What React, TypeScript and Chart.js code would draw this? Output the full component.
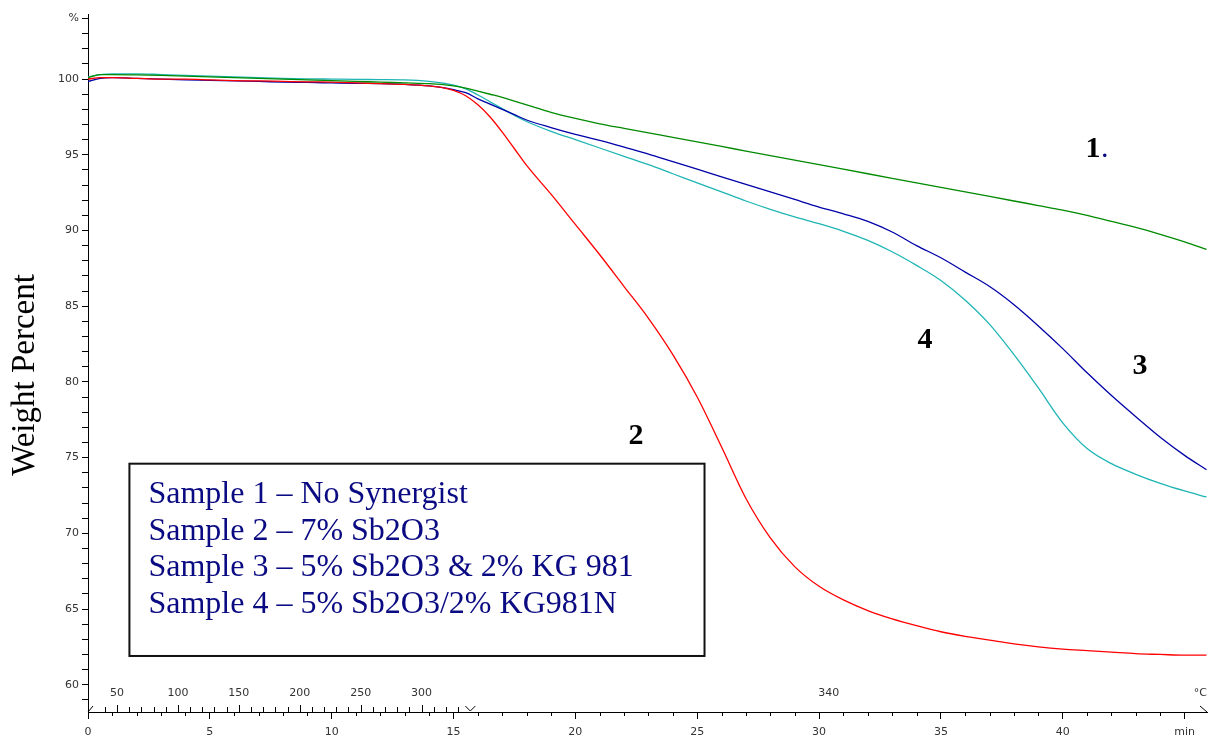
import React, { useEffect, useRef } from 'react';
import Chart from 'chart.js/auto';

// ---- data (time in minutes, weight in %) ----
const timeMin = [0, 0.5, 1, 2, 3, 4, 5, 6, 7, 8, 9, 10, 11, 12, 13, 14, 14.5, 15, 15.5, 16, 16.5, 17, 17.5, 18, 19, 20, 21, 22, 23, 24, 25, 26, 27, 28, 29, 30, 31, 32, 33, 34, 35, 36, 37, 38, 39, 40, 41, 42, 43, 44, 45, 45.9];

const sample1 = [100.1, 100.3, 100.3, 100.28, 100.25, 100.2, 100.15, 100.1, 100.05, 100.0, 99.95, 99.9, 99.85, 99.8, 99.75, 99.7, 99.65, 99.55, 99.4, 99.2, 99.0, 98.8, 98.55, 98.3, 97.8, 97.4, 97.05, 96.75, 96.45, 96.15, 95.85, 95.55, 95.25, 94.95, 94.65, 94.35, 94.05, 93.75, 93.45, 93.15, 92.85, 92.55, 92.25, 91.95, 91.65, 91.35, 91.0, 90.6, 90.2, 89.75, 89.25, 88.75];

const sample2 = [100.0, 100.1, 100.1, 100.05, 100.0, 100.0, 99.95, 99.9, 99.88, 99.85, 99.82, 99.8, 99.75, 99.7, 99.65, 99.55, 99.45, 99.25, 98.9, 98.3, 97.5, 96.5, 95.4, 94.3, 92.4, 90.4, 88.4, 86.3, 84.2, 81.8, 79.0, 75.7, 72.3, 69.7, 67.8, 66.5, 65.6, 64.9, 64.35, 63.9, 63.5, 63.2, 62.95, 62.7, 62.5, 62.35, 62.25, 62.15, 62.05, 62.0, 61.95, 61.95];

const sample3 = [99.85, 100.05, 100.1, 100.05, 100.0, 99.95, 99.92, 99.88, 99.85, 99.8, 99.78, 99.75, 99.72, 99.7, 99.65, 99.55, 99.45, 99.3, 99.1, 98.7, 98.35, 98.0, 97.65, 97.3, 96.8, 96.35, 95.95, 95.5, 95.05, 94.55, 94.05, 93.55, 93.05, 92.55, 92.05, 91.55, 91.1, 90.6, 89.9, 89.0, 88.2, 87.25, 86.3, 85.1, 83.7, 82.2, 80.6, 79.1, 77.7, 76.35, 75.15, 74.2];

const sample4 = [100.15, 100.3, 100.35, 100.35, 100.3, 100.25, 100.2, 100.15, 100.1, 100.05, 100.02, 100.0, 99.98, 99.97, 99.95, 99.85, 99.75, 99.6, 99.35, 98.95, 98.5, 98.05, 97.6, 97.2, 96.55, 96.0, 95.45, 94.9, 94.35, 93.75, 93.15, 92.55, 91.95, 91.4, 90.9, 90.45, 89.95, 89.35, 88.6, 87.7, 86.7, 85.4, 83.8, 81.8, 79.6, 77.3, 75.6, 74.6, 73.9, 73.3, 72.8, 72.4];

const seriesColors = ['#008a00', '#ff0000', '#0000a8', '#1fb5b5'];

const yTickValues = [59, 60, 61, 62, 63, 64, 65, 66, 67, 68, 69, 70, 71, 72, 73, 74, 75, 76, 77, 78, 79, 80, 81, 82, 83, 84, 85, 86, 87, 88, 89, 90, 91, 92, 93, 94, 95, 96, 97, 98, 99, 100, 101, 102, 103, 104];
const yLabelStep = 5;
const yUnitTick = 104;

const xTickValues = [0, 1, 2, 3, 4, 5, 6, 7, 8, 9, 10, 11, 12, 13, 14, 15, 16, 17, 18, 19, 20, 21, 22, 23, 24, 25, 26, 27, 28, 29, 30, 31, 32, 33, 34, 35, 36, 37, 38, 39, 40, 41, 42, 43, 44, 45];
const xLabelStep = 5;
const xUnitTick = 45;

// temperature programme (secondary scale)
const tempStart = 26.2; // °C at t = 0
const heatRate = 20; // °C / min
const isoTemp = 340;
const tempTickValues = [40, 50, 60, 70, 80, 90, 100, 110, 120, 130, 140, 150, 160, 170, 180, 190, 200, 210, 220, 230, 240, 250, 260, 270, 280, 290, 300, 310, 320, 330];
const tempLabelValues = [50, 100, 150, 200, 250, 300];
const isoLabelTime = 30.4;

const legendLines = [
  'Sample 1 – No Synergist',
  'Sample 2 – 7% Sb2O3',
  'Sample 3 – 5% Sb2O3 & 2% KG 981',
  'Sample 4 – 5% Sb2O3/2% KG981N',
];
// legend box corners in data units (min, %)
const legendBox = { t0: 1.7, t1: 25.3, w0: 74.6, w1: 61.9 };

const curveLabels = [
  { text: '1', t: 41.24, w: 95.4, dot: true },
  { text: '2', t: 22.49, w: 76.4, dot: false },
  { text: '3', t: 43.17, w: 81.05, dot: false },
  { text: '4', t: 34.35, w: 82.75, dot: false },
];

const overlay = {
  id: 'overlay',
  afterDraw(chart: any) {
    const { ctx, chartArea: ca } = chart;
    const x = chart.scales.x;
    const y = chart.scales.y;
    const axisY = ca.bottom;
    ctx.save();
    ctx.strokeStyle = '#000';
    ctx.lineWidth = 1;
    const line = (x1: number, y1: number, x2: number, y2: number) => {
      ctx.beginPath();
      ctx.moveTo(x1, y1);
      ctx.lineTo(x2, y2);
      ctx.stroke();
    };
    // minor minute ticks (below axis)
    for (const m of xTickValues) {
      if (m % xLabelStep === 0) continue;
      const px = Math.round(x.getPixelForValue(m)) + 0.5;
      line(px, axisY, px, axisY + 4);
    }
    // temperature ticks (above axis)
    ctx.fillStyle = '#333';
    ctx.font = '11px "DejaVu Sans"';
    ctx.textAlign = 'center';
    ctx.textBaseline = 'middle';
    for (const T of tempTickValues) {
      const t = (T - tempStart) / heatRate;
      const px = Math.round(x.getPixelForValue(t)) + 0.5;
      const len = tempLabelValues.includes(T) ? 7 : 5;
      line(px, axisY, px, axisY - len);
    }
    for (const T of tempLabelValues) {
      const t = (T - tempStart) / heatRate;
      ctx.fillText(String(T), x.getPixelForValue(t), axisY - 19);
    }
    ctx.fillText(String(isoTemp), x.getPixelForValue(isoLabelTime), axisY - 19);
    ctx.textAlign = 'right';
    ctx.fillText('°C', ca.right, axisY - 19);
    // segment markers
    const isoT = (isoTemp - tempStart) / heatRate;
    const vx = x.getPixelForValue(isoT);
    ctx.beginPath();
    ctx.moveTo(vx - 5, axisY - 6);
    ctx.lineTo(vx, axisY - 1);
    ctx.lineTo(vx + 5, axisY - 6);
    ctx.stroke();
    line(ca.left, axisY, ca.left + 5, axisY - 6);
    line(ca.right - 7, axisY - 6, ca.right, axisY);

    // y axis title
    ctx.save();
    ctx.translate(25, (ca.top + ca.bottom) / 2 + 12);
    ctx.rotate(-Math.PI / 2);
    ctx.fillStyle = '#000';
    ctx.font = '33px "Liberation Serif"';
    ctx.textAlign = 'center';
    ctx.textBaseline = 'middle';
    ctx.fillText('Weight Percent', 0, 0);
    ctx.restore();

    // legend box
    const bx0 = x.getPixelForValue(legendBox.t0);
    const bx1 = x.getPixelForValue(legendBox.t1);
    const by0 = y.getPixelForValue(legendBox.w0);
    const by1 = y.getPixelForValue(legendBox.w1);
    ctx.fillStyle = '#fff';
    ctx.fillRect(bx0, by0, bx1 - bx0, by1 - by0);
    ctx.lineWidth = 2;
    ctx.strokeStyle = '#111';
    ctx.strokeRect(bx0, by0, bx1 - bx0, by1 - by0);
    ctx.fillStyle = '#0a0a82';
    ctx.font = '32px "Liberation Serif"';
    ctx.textAlign = 'left';
    ctx.textBaseline = 'middle';
    legendLines.forEach((s, i) => {
      ctx.fillText(s, bx0 + 19, by0 + 31 + i * 36.7);
    });

    // curve labels
    ctx.font = 'bold 30px "Liberation Serif"';
    ctx.textAlign = 'center';
    ctx.textBaseline = 'middle';
    for (const c of curveLabels) {
      const px = x.getPixelForValue(c.t);
      const py = y.getPixelForValue(c.w);
      ctx.fillStyle = '#000';
      ctx.fillText(c.text, px, py);
      if (c.dot) {
        ctx.fillStyle = '#0a0a82';
        ctx.textAlign = 'left';
        ctx.font = '30px "Liberation Serif"';
        ctx.fillText('.', px + 8, py);
        ctx.font = 'bold 30px "Liberation Serif"';
        ctx.textAlign = 'center';
      }
    }
    ctx.restore();
  },
};

export default function App() {
  const ref = useRef<HTMLCanvasElement>(null);
  useEffect(() => {
    const series = [sample1, sample2, sample3, sample4];
    const chart = new Chart(ref.current as HTMLCanvasElement, {
      type: 'line',
      data: {
        datasets: series.map((s, i) => ({
          label: 'Sample ' + (i + 1),
          data: timeMin.map((t, j) => ({ x: t, y: s[j] })),
          borderColor: seriesColors[i],
          backgroundColor: seriesColors[i],
          borderWidth: 1.3,
          pointRadius: 0,
          fill: false,
          cubicInterpolationMode: 'monotone' as const,
        })),
      },
      options: {
        responsive: false,
        animation: false,
        layout: { padding: { top: 14, right: 2, left: 0, bottom: 0 } },
        plugins: { legend: { display: false }, tooltip: { enabled: false } },
        scales: {
          x: {
            type: 'linear',
            min: 0,
            max: 45.92,
            border: { display: true, color: '#000', width: 1 },
            grid: {
              drawOnChartArea: false,
              drawTicks: true,
              tickLength: 7,
              tickColor: (c: any) => (c.tick && c.tick.value % xLabelStep === 0 ? '#000' : 'rgba(0,0,0,0)'),
            },
            afterBuildTicks: (scale: any) => {
              scale.ticks = xTickValues.map((v) => ({ value: v }));
            },
            afterFit: (scale: any) => {
              scale.height = 26;
            },
            ticks: {
              autoSkip: false,
              maxRotation: 0,
              padding: 7,
              color: '#333',
              font: { family: 'DejaVu Sans', size: 11 },
              callback: (v: any) => (v % xLabelStep === 0 ? (v === xUnitTick ? 'min' : String(v)) : ''),
            },
          },
          y: {
            type: 'linear',
            min: 58.2,
            max: 104.3,
            border: { display: true, color: '#000', width: 1 },
            grid: { drawOnChartArea: false, drawTicks: true, tickLength: 6, tickColor: '#000' },
            afterBuildTicks: (scale: any) => {
              scale.ticks = yTickValues.map((v) => ({ value: v }));
            },
            afterFit: (scale: any) => {
              scale.width = 88;
            },
            ticks: {
              autoSkip: false,
              padding: 3,
              color: '#333',
              font: { family: 'DejaVu Sans', size: 11 },
              callback: (v: any) => (v === yUnitTick ? '%' : v % yLabelStep === 0 ? String(v) : ''),
            },
          },
        },
      },
      plugins: [overlay],
    } as any);
    return () => chart.destroy();
  }, []);
  return (
    <div style={{ position: 'absolute', left: 0, top: 0, width: 1209, height: 738, background: '#fff' }}>
      <canvas ref={ref} width={1209} height={738} style={{ display: 'block' }} />
    </div>
  );
}
